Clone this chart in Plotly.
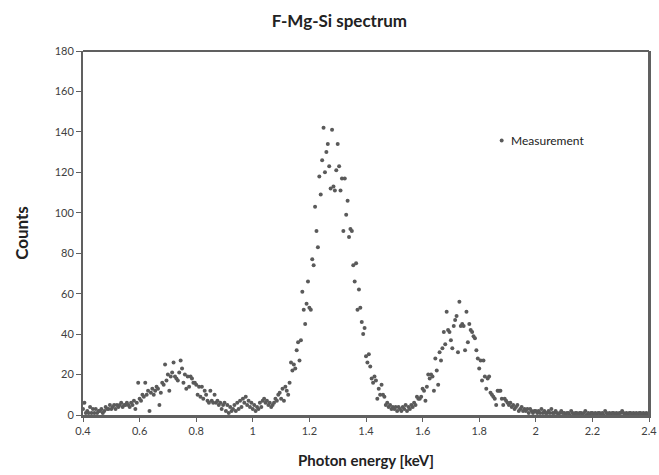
import plotly.graph_objects as go

# detector channels: 0.400 keV start, 5 eV wide
energy_start = 0.4
channel_width = 0.005

# counts, one value per channel
counts_low = [  # 0.400 - 0.995 keV
    3, 6, 1, 2, 1, 4, 1, 3, 1, 3, 1, 2, 2, 3, 1, 2, 4, 3, 3, 5,
    3, 4, 5, 3, 5, 4, 5, 6, 4, 5, 5, 6, 5, 4, 6, 5, 7, 3, 6, 16,
    8, 7, 10, 9, 16, 10, 12, 2, 11, 13, 10, 12, 14, 13, 5, 11, 16, 15, 25, 17,
    20, 12, 19, 21, 26, 19, 18, 17, 21, 27, 23, 16, 20, 13, 19, 14, 19, 18, 16, 16,
    15, 10, 14, 9, 14, 8, 12, 10, 7, 6, 12, 7, 6, 10, 6, 7, 5, 6, 3, 5,
    6, 2, 5, 1, 4, 2, 3, 5, 2, 6, 3, 7, 4, 8, 6, 9, 5, 7, 4, 6,
]
counts_mg = [  # 1.000 - 1.495 keV
    3, 5, 2, 4, 3, 6, 4, 7, 8, 6, 7, 5, 6, 4, 5, 6, 8, 7, 10, 11,
    8, 13, 7, 14, 12, 10, 16, 26, 22, 25, 23, 32, 36, 27, 37, 61, 52, 45, 55, 66,
    53, 52, 77, 74, 103, 91, 83, 118, 109, 126, 142, 120, 130, 134, 123, 112, 141, 113, 111, 121,
    134, 123, 111, 117, 91, 117, 99, 106, 88, 92, 91, 74, 66, 75, 52, 62, 53, 46, 40, 43,
    29, 26, 30, 24, 18, 16, 19, 17, 8, 13, 10, 15, 10, 9, 5, 6, 4, 5, 3, 4,
]
counts_si = [  # 1.500 - 2.400 keV
    3, 4, 2, 4, 3, 2, 4, 3, 5, 2, 4, 3, 5, 4, 6, 5, 9, 8, 8, 9,
    13, 12, 7, 14, 20, 18, 20, 19, 12, 28, 22, 15, 31, 27, 33, 41, 35, 51, 42, 41,
    37, 33, 44, 47, 49, 31, 56, 44, 45, 44, 32, 51, 36, 45, 42, 41, 39, 38, 32, 28,
    23, 27, 17, 27, 19, 13, 18, 19, 11, 10, 9, 8, 5, 12, 12, 12, 8, 5, 8, 7,
    6, 5, 6, 4, 5, 3, 4, 5, 2, 3, 4, 2, 3, 2, 3, 1, 3, 2, 1, 2,
    2, 1, 2, 1, 3, 1, 2, 1, 1, 2, 1, 3, 1, 1, 2, 1, 0, 1, 2, 1,
    1, 0, 1, 1, 0, 2, 1, 0, 1, 1, 0, 1, 1, 0, 1, 2, 0, 1, 0, 1,
    1, 0, 1, 0, 1, 1, 0, 1, 0, 2, 1, 0, 1, 0, 1, 1, 0, 1, 0, 1,
    1, 2, 1, 0, 1, 0, 1, 1, 0, 1, 0, 1, 0, 1, 1, 0, 1, 0, 1, 0, 1,
]
y_ticks = [0, 20, 40, 60, 80, 100, 120, 140, 160, 180]
x_ticks = [0.4, 0.6, 0.8, 1, 1.2, 1.4, 1.6, 1.8, 2, 2.2, 2.4]

counts = counts_low + counts_mg + counts_si
energy = [round(energy_start + channel_width * ch, 3) for ch in range(len(counts))]

dot_color = "#5a5a5a"
font = "Lato, 'Open Sans', sans-serif"

fig = go.Figure()
fig.add_trace(go.Scatter(
    x=energy, y=counts, mode="markers", name="Measurement",
    marker=dict(size=4, color=dot_color), showlegend=False,
))

fig.update_layout(
    width=659, height=475,
    margin=dict(l=83, r=10, t=51, b=60),
    paper_bgcolor="white", plot_bgcolor="white",
    font=dict(family=font, size=11, color="#404040"),
    title=dict(text="<b>F-Mg-Si spectrum</b>", x=0.515, xref="container", xanchor="center",
               y=0.956, yref="container", yanchor="middle", font=dict(size=17, color="#222")),
    showlegend=False,
)
fig.update_xaxes(
    range=[0.4, 2.4], tickvals=x_ticks, ticks="outside", ticklen=4, tickcolor="#606060",
    ticklabeloverflow="allow", automargin=False,
    showgrid=False, zeroline=False, showline=True, linewidth=3, linecolor="#606060",
    mirror=False,
    title=dict(text="<b>Photon energy [keV]</b>", font=dict(size=15, color="#222"), standoff=20),
)
fig.update_yaxes(
    range=[0, 180], tickvals=y_ticks, ticks="outside", ticklen=5, tickcolor="#606060",
    automargin=False,
    showgrid=False, zeroline=False, showline=True, linewidth=2, linecolor="#606060",
    mirror=True,
    title=dict(text="<b>Counts</b>", font=dict(size=17, color="#222"), standoff=22),
)
# top and right frame of the plot area
fig.add_shape(type="line", xref="paper", yref="paper", x0=0, x1=1, y0=1, y1=1,
              line=dict(color="#606060", width=2))
fig.add_shape(type="line", xref="paper", yref="paper", x0=1, x1=1, y0=0, y1=1,
              line=dict(color="#606060", width=2))

# legend entry, drawn next to the peak like the original
fig.add_shape(type="circle", xref="paper", yref="paper",
              x0=0.7362, x1=0.7432, y0=0.7485, y1=0.7595,
              fillcolor=dot_color, line=dict(width=0))
fig.add_annotation(text="Measurement", xref="paper", yref="paper", x=0.752, y=0.754,
                   xanchor="left", yanchor="middle", showarrow=False,
                   font=dict(size=12, color="#222"))

fig.write_html(
    "out.html",
    config={"displayModeBar": False},
    post_script="document.body.style.margin='0';document.body.style.overflow='hidden';",
)
